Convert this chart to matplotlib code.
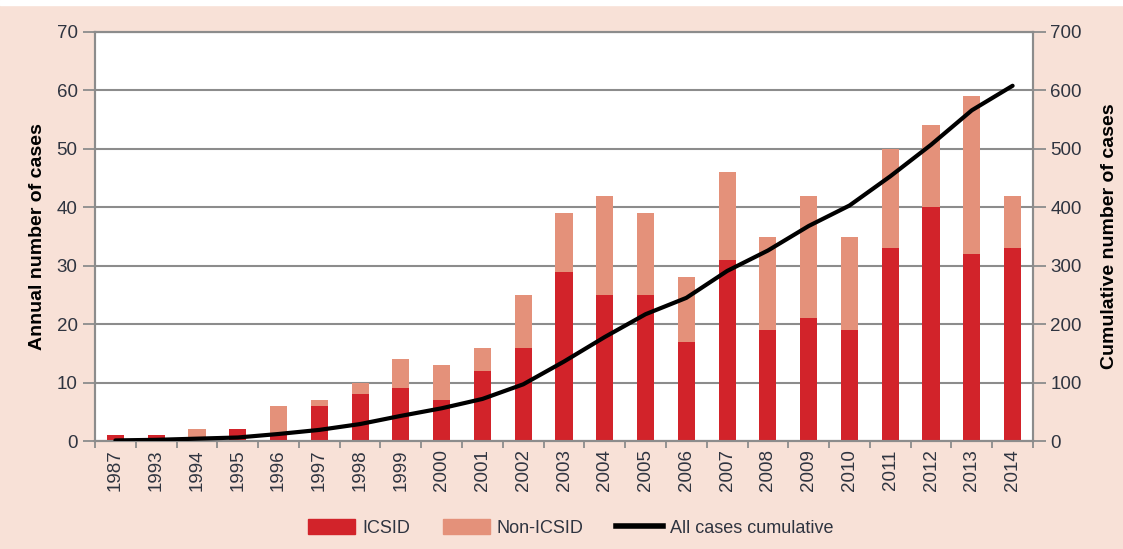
import matplotlib
matplotlib.use("Agg")
from matplotlib import pyplot as plt
from matplotlib.patches import Patch
from matplotlib.lines import Line2D

years = ["1987", "1993", "1994", "1995", "1996", "1997", "1998", "1999", "2000",
         "2001", "2002", "2003", "2004", "2005", "2006", "2007", "2008", "2009",
         "2010", "2011", "2012", "2013", "2014"]
icsid = [1, 1, 0, 2, 1, 6, 8, 9, 7, 12, 16, 29, 25, 25, 17, 31, 19, 21, 19, 33, 40, 32, 33]
non_icsid = [0, 0, 2, 0, 5, 1, 2, 5, 6, 4, 9, 10, 17, 14, 11, 15, 16, 21, 16, 17, 14, 27, 9]
cumulative = [1, 2, 4, 6, 12, 19, 29, 43, 56, 72, 97, 136, 178, 217, 245, 291, 326,
              368, 403, 453, 507, 566, 608]

red = "#d2232a"
salmon = "#e4917a"
peach = "#f8e1d7"
grey = "#8c8c8c"
txt = "#2f3440"
plt.rcParams["font.family"] = ["Liberation Sans", "DejaVu Sans"]

fig = plt.figure(figsize=(11.23, 5.49), dpi=100)
fig.patch.set_facecolor(peach)

# white strip above the chart (the page the figure was cut from)
fig.add_artist(plt.Rectangle((0, 1 - 5 / 549), 1, 5 / 549, transform=fig.transFigure,
                             color="white", zorder=0))

ax = fig.add_axes([95 / 1123, 1 - 441 / 549, (1033 - 95) / 1123, (441 - 32) / 549])
ax.set_facecolor("white")
x = list(range(len(years)))
ax.bar(x, icsid, width=0.42, color=red, zorder=3)
ax.bar(x, non_icsid, width=0.42, bottom=icsid, color=salmon, zorder=3)

ax.set_xlim(-0.5, len(years) - 0.5)
ax.set_ylim(0, 70)
ax.set_yticks(range(0, 71, 10))
ax.yaxis.grid(True, color=grey, linewidth=1.5, zorder=0)
ax.set_xticks(x)
ax.set_xticklabels(years, rotation=90, fontsize=13.5, color=txt)
ax.set_xticks([i + 0.5 for i in range(-1, len(years))], minor=True)
ax.tick_params(axis="x", which="major", length=0, pad=6)
ax.tick_params(axis="x", which="minor", length=5, color=grey, width=1.3)
ax.tick_params(axis="y", length=9, color=grey, width=1.3, labelsize=13.5, labelcolor=txt)
for s in ax.spines.values():
    s.set_color(grey)
    s.set_linewidth(1.5)
ax.set_ylabel("Annual number of cases", fontsize=14, fontweight="bold", labelpad=8)

ax2 = ax.twinx()
ax2.plot(x, cumulative, color="black", linewidth=3, solid_capstyle="round", zorder=4)
ax2.set_ylim(0, 700)
ax2.set_yticks(range(0, 701, 100))
ax2.tick_params(axis="y", length=9, color=grey, width=1.3, labelsize=13.5, labelcolor=txt)
for s in ax2.spines.values():
    s.set_color(grey)
    s.set_linewidth(1.5)
ax2.set_ylabel("Cumulative number of cases", fontsize=14, fontweight="bold", labelpad=14)

handles = [Patch(color=red, label="ICSID"),
           Patch(color=salmon, label="Non-ICSID"),
           Line2D([0], [0], color="black", linewidth=4, label="All cases cumulative")]
fig.legend(handles=handles, loc="center", bbox_to_anchor=(571 / 1123, 1 - 528 / 549),
           ncol=3, frameon=False, fontsize=13, handlelength=2.6, handleheight=0.9,
           columnspacing=1.8, handletextpad=0.4, labelcolor=txt)

plt.savefig("out.png", dpi=100, facecolor=fig.get_facecolor())
